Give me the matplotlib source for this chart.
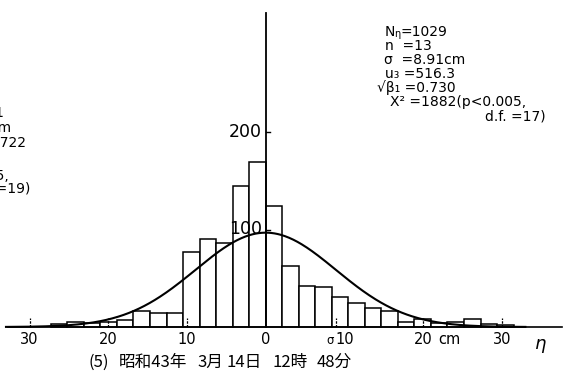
import numpy as np
import matplotlib
matplotlib.use("Agg")
import matplotlib.pyplot as plt

plt.rcParams['font.family'] = ['DejaVu Sans']
plt.rcParams['mathtext.fontset'] = 'dejavusans'

# ---------------- data ----------------
bin_width = 2.1            # cm
first_bin = -13            # index of the leftmost class (left edge = first_bin*bin_width)
counts = [3, 5, 4, 5, 7, 16, 14, 14, 77, 90, 86, 145, 169,
          124, 63, 42, 41, 31, 25, 20, 16, 5, 8, 4, 5, 8, 3, 2]
N_total = 1029
sigma = 8.91
mean = 0.0
xtick_values = [-30, -20, -10, 0, 10, 20, 30]
xtick_labels = ["30", "20", "10", "0", "10", "20", "30"]
xtick_marks = [-30, -20, -10, sigma, 20, 30]
ytick_values = [100, 200]
ytick_labels = ["100", "200"]
stats_head = ["N", "η", "=1029"]
stats_lines = ["n  =13", "σ  =8.91cm", "u₃ =516.3",
               "√β₁ =0.730", "X² =1882(p<0.005,", "d.f. =17)"]
left_fragments = ["1", "8.91cm", "=0.722", "(p<0.005,", "d.f.=19)"]
caption_parts = ["(5)", "昭和43年", "3月", "14日", "12時", "48分"]

# ---------------- layout (pixel geometry of the reference) ----------------
W, H = 564, 379
X0_PX, PX_PER_CM = 265.7, 7.87
BASE_PX, PX_PER_CNT = 327.0, 0.975

fig = plt.figure(figsize=(W / 100, H / 100), dpi=100)
ax = fig.add_axes([0, 0, 1, 1])
ax.set_xlim((0 - X0_PX) / PX_PER_CM, (W - X0_PX) / PX_PER_CM)
ax.set_ylim(-(H - BASE_PX) / PX_PER_CNT, BASE_PX / PX_PER_CNT)
ax.axis('off')

def cm(px):      # pixel offset -> cm
    return px / PX_PER_CM

def cnt(px):     # pixel offset -> count units
    return px / PX_PER_CNT

# histogram
lefts = (np.arange(len(counts)) + first_bin) * bin_width
ax.bar(lefts, counts, width=bin_width, align='edge', facecolor='white',
       edgecolor='black', linewidth=1.1, zorder=2)

# fitted normal curve
xs = np.linspace(-33, 33, 500)
ys = N_total * bin_width / (sigma * np.sqrt(2 * np.pi)) * np.exp(-(xs - mean) ** 2 / (2 * sigma ** 2))
ax.plot(xs, ys, color='black', linewidth=1.5, zorder=3)

# axes lines
ax.axhline(0, xmin=8 / W, xmax=562 / W, color='black', linewidth=1.2, zorder=4)
ax.axvline(0, ymin=(H - BASE_PX) / H, ymax=(H - 13) / H, color='black', linewidth=1.3, zorder=4)

# y ticks and labels
for v, lab in zip(ytick_values, ytick_labels):
    ax.plot([0, cm(4)], [v, v], color='black', linewidth=1.0, zorder=4)
    ax.text(-cm(4), v, lab, ha='right', va='center', fontsize=12.5, zorder=5)

# x tick marks and labels
for v in xtick_marks:
    ax.plot([v, v], [0, cnt(9)], color='black', linewidth=0.9, linestyle=(0, (2, 1)), zorder=4)
for v, lab in zip(xtick_values, xtick_labels):
    ax.text(v, -cnt(13), lab, ha='center', va='center', fontsize=10.5)
ax.text(20 + cm(15), -cnt(13), "cm", ha='left', va='center', fontsize=10.5)
ax.text(sigma - cm(6), -cnt(14), "σ", ha='center', va='center', fontsize=8.5)
ax.text(cm(540 - X0_PX), -cnt(19), r"$\eta$", ha='center', va='center', fontsize=13)

# caption
cap_x = [89, 119, 197, 227, 272, 317]
for s, xp in zip(caption_parts, cap_x):
    ax.text(cm(xp - X0_PX), -cnt(362 - BASE_PX), s, ha='left', va='center', fontsize=12,
            family=['Noto Sans CJK JP', 'DejaVu Sans'])

# statistics block (upper right)
head_x = [385, 394, 400]
head_y = [32, 34, 32]
head_fs = [10, 7, 10]
for s, xp, yp, fs in zip(stats_head, head_x, head_y, head_fs):
    ax.text(cm(xp - X0_PX), cnt(BASE_PX - yp), s, ha='left', va='center', fontsize=fs)
stat_x = [385, 384, 385, 377, 390, 485]
stat_y = [46, 60, 74, 88, 102, 116]
for s, xp, yp in zip(stats_lines, stat_x, stat_y):
    ax.text(cm(xp - X0_PX), cnt(BASE_PX - yp), s, ha='left', va='center', fontsize=10)

# fragments of the neighbouring panel's statistics (cut at the left edge)
frag_right = [3, 11, 27, 10, 31]
frag_y = [113, 128, 143, 176, 188]
for s, xp, yp in zip(left_fragments, frag_right, frag_y):
    ax.text(cm(xp - X0_PX), cnt(BASE_PX - yp), s, ha='right', va='center', fontsize=10)

fig.savefig("out.png", dpi=100)
